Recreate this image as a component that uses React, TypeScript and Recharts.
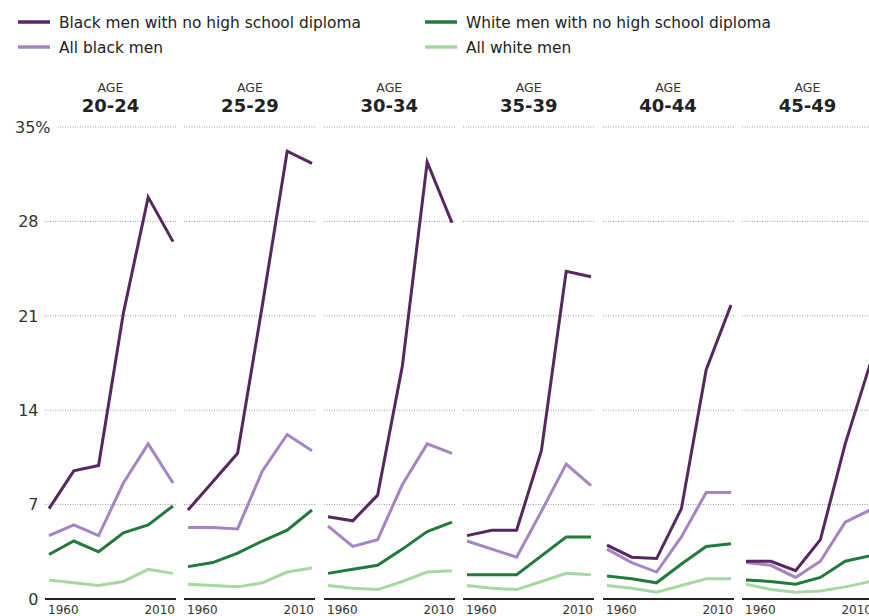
import { LineChart, Line, XAxis, YAxis, CartesianGrid } from "recharts"

const YEARS = [1960, 1970, 1980, 1990, 2000, 2010]
const AGE_GROUPS = ["20-24", "25-29", "30-34", "35-39", "40-44", "45-49"]
const Y_TICKS = [0, 7, 14, 21, 28, 35]

// one row per age group, one value per decade
const BLACK_NO_DIPLOMA = [
  [6.7, 9.5, 9.9, 21.2, 29.8, 26.5],
  [6.6, 8.7, 10.8, 21.8, 33.2, 32.3],
  [6.1, 5.8, 7.7, 17.3, 32.4, 27.9],
  [4.7, 5.1, 5.1, 11.0, 24.3, 23.9],
  [4.0, 3.1, 3.0, 6.7, 17.0, 21.8],
  [2.8, 2.8, 2.1, 4.4, 11.5, 17.4],
]
const ALL_BLACK = [
  [4.7, 5.5, 4.7, 8.6, 11.5, 8.6],
  [5.3, 5.3, 5.2, 9.5, 12.2, 11.0],
  [5.4, 3.9, 4.4, 8.5, 11.5, 10.8],
  [4.3, 3.7, 3.1, 6.5, 10.0, 8.4],
  [3.7, 2.7, 2.0, 4.6, 7.9, 7.9],
  [2.7, 2.5, 1.6, 2.8, 5.7, 6.6],
]
const WHITE_NO_DIPLOMA = [
  [3.3, 4.3, 3.5, 4.9, 5.5, 6.9],
  [2.4, 2.7, 3.4, 4.3, 5.1, 6.6],
  [1.9, 2.2, 2.5, 3.7, 5.0, 5.7],
  [1.8, 1.8, 1.8, 3.2, 4.6, 4.6],
  [1.7, 1.5, 1.2, 2.6, 3.9, 4.1],
  [1.4, 1.3, 1.1, 1.6, 2.8, 3.2],
]
const ALL_WHITE = [
  [1.4, 1.2, 1.0, 1.3, 2.2, 1.9],
  [1.1, 1.0, 0.9, 1.2, 2.0, 2.3],
  [1.0, 0.8, 0.7, 1.3, 2.0, 2.1],
  [1.0, 0.8, 0.7, 1.3, 1.9, 1.8],
  [1.0, 0.8, 0.5, 1.0, 1.5, 1.5],
  [1.1, 0.7, 0.5, 0.6, 0.9, 1.3],
]

const DARK_PURPLE = "#57275f"
const LIGHT_PURPLE = "#a585c2"
const DARK_GREEN = "#237a3c"
const LIGHT_GREEN = "#a8d8a2"
const FONT = "'DejaVu Sans', sans-serif"

const AXIS_W = 45
const PANEL_W = 131
const STRIDE = 139.4
const CHART_TOP = 117
const MARGIN_TOP = 10
const PLOT_H = 472
const X_AXIS_H = 20
const CHART_H = MARGIN_TOP + PLOT_H + X_AXIS_H

const legendItems = [
  { label: "Black men with no high school diploma", color: DARK_PURPLE, x: 18, y: 22 },
  { label: "All black men", color: LIGHT_PURPLE, x: 18, y: 47 },
  { label: "White men with no high school diploma", color: DARK_GREEN, x: 425, y: 22 },
  { label: "All white men", color: LIGHT_GREEN, x: 425, y: 47 },
]

function buildRows(i: number) {
  return YEARS.map((year, j) => ({
    year,
    blackNoHs: BLACK_NO_DIPLOMA[i][j],
    allBlack: ALL_BLACK[i][j],
    whiteNoHs: WHITE_NO_DIPLOMA[i][j],
    allWhite: ALL_WHITE[i][j],
  }))
}

const YearTick = ({ x, payload }: any) => {
  const first = payload.value === YEARS[0]
  return (
    <text
      x={first ? x - 1 : x + 2}
      y={MARGIN_TOP + PLOT_H + 15}
      textAnchor={first ? "start" : "end"}
      fontFamily={FONT}
      fontSize={12}
      fill="#333"
    >
      {payload.value}
    </text>
  )
}

const ValueTick = ({ y, payload }: any) => {
  if (payload.value === 35) {
    return (
      <g>
        <rect x={12} y={y - 9} width={45} height={18} fill="#fff" />
        <text x={15} y={y + 5.8} fontFamily={FONT} fontSize={16} fill="#333">
          35%
        </text>
      </g>
    )
  }
  return (
    <text x={38.5} y={y + 5.8} textAnchor="end" fontFamily={FONT} fontSize={16} fill="#333">
      {payload.value}
    </text>
  )
}

function Panel({ index }: { index: number }) {
  const first = index === 0
  const left = first ? 0 : AXIS_W + index * STRIDE
  const width = first ? AXIS_W + PANEL_W : PANEL_W
  return (
    <div style={{ position: "absolute", left, top: CHART_TOP }}>
      <LineChart
        width={width}
        height={CHART_H}
        data={buildRows(index)}
        margin={{ top: MARGIN_TOP, right: 0, bottom: 0, left: 0 }}
      >
        <CartesianGrid vertical={false} stroke="#9a9a9a" strokeDasharray="1 1.5" />
        <XAxis
          dataKey="year"
          type="number"
          domain={[1960, 2010]}
          ticks={[1960, 2010]}
          padding={{ left: 4, right: 3 }}
          height={X_AXIS_H}
          tickLine={false}
          axisLine={{ stroke: "#222", strokeWidth: 2 }}
          tick={<YearTick />}
          interval={0}
        />
        <YAxis
          type="number"
          domain={[0, 35]}
          ticks={Y_TICKS}
          width={AXIS_W}
          hide={!first}
          axisLine={false}
          tickLine={false}
          tick={<ValueTick />}
          interval={0}
        />
        <Line type="linear" dataKey="allWhite" stroke={LIGHT_GREEN} strokeWidth={3} dot={false} isAnimationActive={false} />
        <Line type="linear" dataKey="whiteNoHs" stroke={DARK_GREEN} strokeWidth={3} dot={false} isAnimationActive={false} />
        <Line type="linear" dataKey="allBlack" stroke={LIGHT_PURPLE} strokeWidth={3} dot={false} isAnimationActive={false} />
        <Line type="linear" dataKey="blackNoHs" stroke={DARK_PURPLE} strokeWidth={3} dot={false} isAnimationActive={false} />
      </LineChart>
    </div>
  )
}

export default function App() {
  return (
    <div
      style={{
        position: "absolute",
        left: 0,
        top: 0,
        width: 869,
        height: 616,
        overflow: "hidden",
        background: "#fff",
      }}
    >
      {AGE_GROUPS.map((g, i) => (
        <Panel key={g} index={i} />
      ))}
      <svg width={869} height={616} style={{ position: "absolute", left: 0, top: 0, pointerEvents: "none" }}>
        {legendItems.map((item) => (
          <g key={item.label}>
            <line x1={item.x} x2={item.x + 32} y1={item.y} y2={item.y} stroke={item.color} strokeWidth={3.5} />
            <text x={item.x + 41} y={item.y + 6} fontFamily={FONT} fontSize={15.4} fill="#222">
              {item.label}
            </text>
          </g>
        ))}
        {AGE_GROUPS.map((g, i) => {
          const cx = AXIS_W + i * STRIDE + PANEL_W / 2
          return (
            <g key={g}>
              <text x={cx} y={92} textAnchor="middle" fontFamily={FONT} fontSize={12.5} fill="#333">
                AGE
              </text>
              <text x={cx} y={112} textAnchor="middle" fontFamily={FONT} fontSize={18} fontWeight="bold" fill="#222">
                {g}
              </text>
            </g>
          )
        })}
      </svg>
    </div>
  )
}
